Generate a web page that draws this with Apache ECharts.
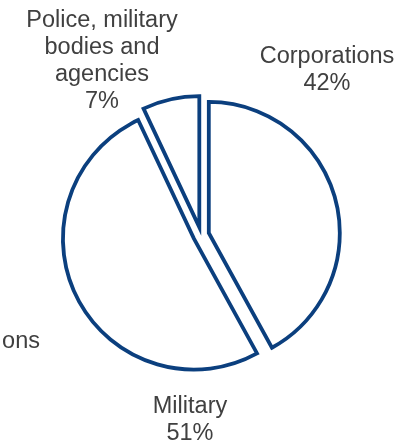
<!DOCTYPE html>
<html>
<head>
<meta charset="utf-8">
<script src="https://cdn.jsdelivr.net/npm/echarts@6/dist/echarts.min.js"></script>
<style>html,body{margin:0;padding:0;background:#fff;}#c{width:418px;height:440px;}</style>
</head>
<body>
<div id="c"></div>
<script>
const categories = ['Corporations', 'Military', 'Police, military\nbodies and\nagencies'];
const shares = [42, 51, 7];
const labelX = [327, 190, 102];
const labelY = [70, 420, 61];

const FONT = '23.5px "Liberation Sans", Arial, sans-serif';
const labelGraphics = categories.map((n, i) => ({
  type: 'text', x: labelX[i], y: labelY[i],
  style: {text: n + '\n' + shares[i] + '%', font: FONT, fill: '#404040',
          align: 'center', verticalAlign: 'middle', lineHeight: 26.7}
}));
labelGraphics.push({
  type: 'text', x: 40, y: 342,
  style: {text: 'ons', font: FONT, fill: '#404040', align: 'right', verticalAlign: 'middle'}
});

const chart = echarts.init(document.getElementById('c'), null, {renderer: 'canvas'});
chart.setOption({
  animation: false,
  backgroundColor: '#ffffff',
  graphic: labelGraphics,
  series: [{
    type: 'pie',
    center: ['48.1%', '53.4%'],
    radius: [0, 131],
    startAngle: 90,
    clockwise: true,
    selectedMode: 'multiple',
    selectedOffset: 8,
    emphasis: {disabled: true},
    itemStyle: {color: '#ffffff', borderColor: '#0b3f7e', borderWidth: 3.8, borderJoin: 'miter'},
    label: {show: false},
    labelLine: {show: false},
    data: categories.map((n, i) => ({name: n, value: shares[i], selected: true}))
  }]
});
</script>
</body>
</html>
